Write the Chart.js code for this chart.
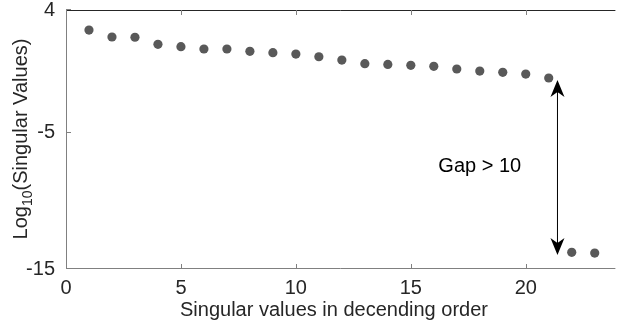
<!DOCTYPE html>
<html>
<head>
<meta charset="utf-8">
<script src="https://cdn.jsdelivr.net/npm/chart.js@4/dist/chart.umd.min.js"></script>
<style>
  body { margin: 0; background: #fff; }
  .chart-box { width: 620px; height: 324px; position: relative; }
</style>
</head>
<body>
<div class="chart-box"><canvas id="gap-chart"></canvas></div>
<script>
// singular value index (x) and log10 of each singular value (y)
const svIndex = [1, 2, 3, 4, 5, 6, 7, 8, 9, 10, 11, 12, 13, 14, 15, 16, 17, 18, 19, 20, 21, 22, 23];
const logSingular = [
  2.53, 2.02, 2.0, 1.48, 1.31, 1.14, 1.14, 0.97, 0.87, 0.77, 0.57, 0.33,
  0.06, 0.01, -0.06, -0.13, -0.33, -0.48, -0.57, -0.70, -0.99, -13.78, -13.83,
];
const xTicks = [0, 5, 10, 15, 20];
const yTicks = [-15, -5, 4];

// annotation: arrow between the two groups and its label
const gapArrow = { x: 21.38, from: -1.14, to: -13.97 };
const gapLabel = { x: 18.0, y: -7.5, text: "Gap > 10" };

const textColor = "#262626";
const fontFamily = "'Liberation Sans', Arial, Helvetica, sans-serif";

const chartFrame = {
  id: "chartFrame",
  afterDraw(chart) {
    const ctx = chart.ctx;
    const area = chart.chartArea;
    const xs = chart.scales.x;
    const ys = chart.scales.y;
    ctx.save();

    // axis lines
    ctx.lineWidth = 1;
    ctx.strokeStyle = "#262626";
    ctx.beginPath();
    ctx.moveTo(area.left, area.top + 0.5);
    ctx.lineTo(area.right, area.top + 0.5);
    ctx.stroke();
    ctx.strokeStyle = "#808080";
    ctx.beginPath();
    ctx.moveTo(area.left + 0.5, area.top);
    ctx.lineTo(area.left + 0.5, area.bottom);
    ctx.moveTo(area.left, area.bottom - 0.5);
    ctx.lineTo(area.right, area.bottom - 0.5);
    ctx.stroke();

    // inward tick marks
    ctx.beginPath();
    xTicks.forEach((v) => {
      const px = Math.round(xs.getPixelForValue(v)) + 0.5;
      ctx.moveTo(px, area.bottom);
      ctx.lineTo(px, area.bottom - 5);
      ctx.moveTo(px, area.top);
      ctx.lineTo(px, area.top + 5);
    });
    yTicks.forEach((v) => {
      const py = Math.round(ys.getPixelForValue(v)) - 0.5;
      ctx.moveTo(area.left, py);
      ctx.lineTo(area.left + 5, py);
    });
    ctx.stroke();

    // double arrow
    const ax = xs.getPixelForValue(gapArrow.x);
    const ay1 = ys.getPixelForValue(gapArrow.from);
    const ay2 = ys.getPixelForValue(gapArrow.to);
    ctx.strokeStyle = "#000";
    ctx.fillStyle = "#000";
    ctx.beginPath();
    ctx.moveTo(ax, ay1 + 10);
    ctx.lineTo(ax, ay2 - 10);
    ctx.stroke();
    const head = (tipY, dir) => {
      ctx.beginPath();
      ctx.moveTo(ax, tipY);
      ctx.lineTo(ax - 7, tipY + dir * 17);
      ctx.lineTo(ax, tipY + dir * 12);
      ctx.lineTo(ax + 7, tipY + dir * 17);
      ctx.closePath();
      ctx.fill();
    };
    head(ay1, 1);
    head(ay2, -1);

    // gap label
    ctx.fillStyle = "#000";
    ctx.font = "20px " + fontFamily;
    ctx.textAlign = "center";
    ctx.textBaseline = "middle";
    ctx.fillText(gapLabel.text, xs.getPixelForValue(gapLabel.x), ys.getPixelForValue(gapLabel.y));

    // x title
    ctx.fillStyle = textColor;
    ctx.fillText("Singular values in decending order", 334, 310);

    // y title with subscript
    ctx.translate(20, 139);
    ctx.rotate(-Math.PI / 2);
    const big = "20px " + fontFamily;
    const small = "14px " + fontFamily;
    ctx.font = big;
    const w1 = ctx.measureText("Log").width;
    const w3 = ctx.measureText("(Singular Values)").width;
    ctx.font = small;
    const w2 = ctx.measureText("10").width;
    let cx = -(w1 + w2 + w3) / 2;
    ctx.textAlign = "left";
    ctx.textBaseline = "alphabetic";
    ctx.font = big;
    ctx.fillText("Log", cx, 7);
    cx += w1;
    ctx.font = small;
    ctx.fillText("10", cx, 12);
    cx += w2;
    ctx.font = big;
    ctx.fillText("(Singular Values)", cx, 7);

    ctx.restore();
  },
};

const gapCanvas = document.getElementById("gap-chart");

let gapChart = new Chart(gapCanvas, {
  type: "scatter",
  data: {
    datasets: [
      {
        data: svIndex.map((x, i) => ({ x: x, y: logSingular[i] })),
        backgroundColor: "#595959",
        borderWidth: 0,
        pointRadius: 4.6,
      },
    ],
  },
  options: {
    responsive: true,
    maintainAspectRatio: false,
    animation: false,
    devicePixelRatio: 1,
    layout: { padding: { top: 10, right: 0, left: 0, bottom: 0 } },
    plugins: {
      legend: { display: false },
      tooltip: { enabled: false },
    },
    scales: {
      x: {
        type: "linear",
        min: 0,
        max: 23.9,
        grid: { display: false, drawTicks: false },
        border: { display: false },
        ticks: {
          color: textColor,
          font: { size: 20, family: fontFamily },
          padding: 7,
          maxRotation: 0,
        },
        afterBuildTicks: (scale) => {
          scale.ticks = xTicks.map((v) => ({ value: v }));
        },
        afterFit: (scale) => {
          scale.height = 55;
          scale.paddingLeft = 0;
          scale.paddingRight = 0;
        },
      },
      y: {
        min: -15,
        max: 4,
        grid: { display: false, drawTicks: false },
        border: { display: false },
        ticks: {
          color: textColor,
          font: { size: 20, family: fontFamily },
          padding: 11,
        },
        afterBuildTicks: (scale) => {
          scale.ticks = yTicks.map((v) => ({ value: v }));
        },
        afterFit: (scale) => {
          scale.width = 66;
          scale.paddingTop = 0;
          scale.paddingBottom = 0;
        },
      },
    },
  },
  plugins: [chartFrame],
});
</script>
</body>
</html>
